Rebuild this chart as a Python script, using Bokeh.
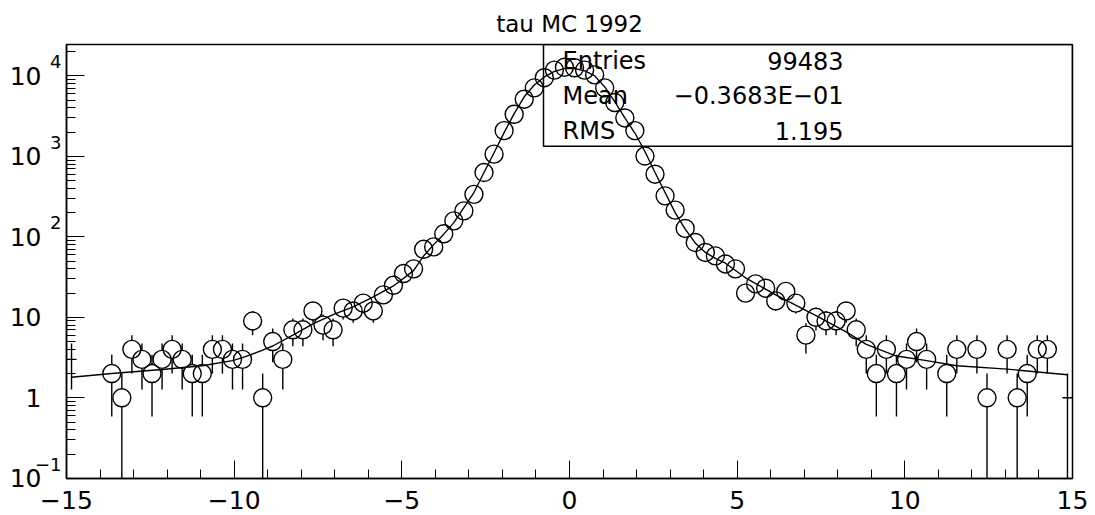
import math
from bokeh.plotting import figure
from bokeh.models import (BoxAnnotation, FixedTicker, CustomJSTickFormatter, Range1d,
                          LogAxis, LogScale, Label)
from bokeh.embed import file_html
from bokeh.resources import INLINE

# ---------------- data ----------------
title_text = "tau MC 1992"

bin_x = [-13.65, -13.35, -13.05, -12.75, -12.45, -12.15, -11.85, -11.55, -11.25, -10.95,
         -10.65, -10.35, -10.05, -9.75, -9.45, -9.15, -8.85, -8.55, -8.25, -7.95,
         -7.65, -7.35, -7.05, -6.75, -6.45, -6.15, -5.85, -5.55, -5.25, -4.95,
         -4.65, -4.35, -4.05, -3.75, -3.45, -3.15, -2.85, -2.55, -2.25, -1.95,
         -1.65, -1.35, -1.05, -0.75, -0.45, -0.15, 0.15, 0.45, 0.75, 1.05,
         1.35, 1.65, 1.95, 2.25, 2.55, 2.85, 3.15, 3.45, 3.75, 4.05,
         4.35, 4.65, 4.95, 5.25, 5.55, 5.85, 6.15, 6.45, 6.75, 7.05,
         7.35, 7.65, 7.95, 8.25, 8.55, 8.85, 9.15, 9.45, 9.75, 10.05,
         10.35, 10.65, 11.25, 11.55, 12.15, 12.45, 13.05, 13.35, 13.65, 13.95,
         14.25]
counts = [2, 1, 4, 3, 2, 3, 4, 3, 2, 2,
          4, 4, 3, 3, 9, 1, 5, 3, 7, 7,
          12, 8, 7, 13, 12, 15, 12, 19, 25, 35,
          40, 70, 75, 109, 158, 210, 337, 630, 1065, 2090,
          3330, 5130, 7100, 9500, 11800, 12800, 12600, 11800, 10300, 7100,
          4660, 3000, 2090, 1010, 600, 323, 215, 127, 85, 64,
          58, 46, 40, 20, 26, 23, 16, 21, 15, 6,
          10, 9, 9, 12, 7, 4, 2, 4, 2, 3,
          5, 3, 2, 4, 4, 1, 4, 1, 2, 4,
          4]

# edge bins: markers not drawn (they would cross the frame), only error bars
edge_x = [-14.85, 14.85]
edge_counts = [3, 1]

fit_x = [-14.85, -13.65, -12.15, -10.95, -10.05, -9.75, -9.15, -8.85, -8.25, -7.65,
         -7.05, -6.45, -5.85, -5.25, -4.65, -4.35, -4.05, -3.75, -3.45, -3.15,
         -2.85, -2.55, -2.25, -1.95, -1.65, -1.35, -1.05, -0.75, -0.45, -0.15,
         0.15, 0.45, 0.75, 1.05, 1.35, 1.65, 1.95, 2.25, 2.55, 2.85,
         3.15, 3.45, 3.75, 4.05, 4.35, 4.65, 5.25, 6.15, 7.35, 8.25,
         8.85, 9.75, 10.65, 11.55, 13.05, 14.85]
fit_y = [1.8, 2.0, 2.25, 2.5, 2.9, 3.15, 3.9, 4.4, 6.0, 8.3,
         10.8, 13.5, 18, 24.5, 38, 58, 80, 108, 150, 230,
         355, 630, 1110, 1970, 3400, 5500, 7700, 9700, 11400, 12300,
         12300, 11600, 10000, 7300, 4800, 3000, 1950, 1150, 630, 355,
         200, 125, 84, 64, 54, 47, 31, 19, 10.5, 6.6,
         4.6, 3.3, 2.9, 2.5, 2.27, 1.93]

stats_names = ["Entries", "Mean", "RMS"]
stats_values = ["99483", "\u22120.3683E\u221201", "1.195"]

x_ticks = [-15, -10, -5, 0, 5, 10, 15]
x_minor = list(range(-15, 16))
y_decades = [-1, 0, 1, 2, 3, 4]

# ---------------- layout ----------------
W, H = 1095, 515
FL, FR, FT, FB = 66, 1072, 43, 478
X0, X1 = -15.0, 15.0
LY0, LY1 = -1.003, 4.39
PPD = (FB - FT) / (LY1 - LY0)      # pixels per decade
FONT = "DejaVu Sans"
LIFT = 14                          # exponent raised by this many pixels


def px2x(px):
    return X0 + (px - FL) / (FR - FL) * (X1 - X0)


def py2y(py):
    return 10 ** (LY0 + (FB - py) / (FB - FT) * (LY1 - LY0))


p = figure(width=W, height=H, x_range=Range1d(X0, X1),
           y_range=Range1d(10 ** LY0, 10 ** LY1), y_axis_type="log",
           output_backend="svg", toolbar_location=None,
           min_border_left=FL, min_border_right=W - FR,
           min_border_top=FT, min_border_bottom=H - FB)
p.grid.visible = False
p.outline_line_color = "black"
p.outline_line_width = 1.5
p.background_fill_color = "white"
p.border_fill_color = "white"

# title
p.title.text = title_text
p.title.align = "center"
p.title.text_font = FONT
p.title.text_font_size = "23px"
p.title.text_font_style = "normal"
p.title.text_color = "black"
p.title.standoff = 16

# x axis
p.xaxis.ticker = FixedTicker(ticks=x_ticks, minor_ticks=x_minor)
p.xaxis.formatter = CustomJSTickFormatter(
    code="return tick < 0 ? '\\u2212' + Math.abs(tick) : String(tick);")
p.xaxis.major_tick_in = 18
p.xaxis.major_tick_out = 0
p.xaxis.minor_tick_in = 9
p.xaxis.minor_tick_out = 0
p.xaxis.axis_line_color = "black"
p.xaxis.axis_line_width = 1.5
p.xaxis.major_tick_line_color = "black"
p.xaxis.minor_tick_line_color = "black"
p.xaxis.major_label_text_font = FONT
p.xaxis.major_label_text_font_size = "25px"
p.xaxis.major_label_text_color = "black"
p.xaxis.major_label_standoff = 12

# y axis (log): ticks only on the main axis
decade_ticks = [10.0 ** d for d in y_decades]
y_minor = [m * 10 ** d for d in range(-1, 5) for m in range(2, 10) if m * 10 ** d < 10 ** LY1]
p.yaxis.ticker = FixedTicker(ticks=decade_ticks, minor_ticks=y_minor)
p.yaxis.formatter = CustomJSTickFormatter(code="return '';")
p.yaxis.major_tick_in = 18
p.yaxis.major_tick_out = 0
p.yaxis.minor_tick_in = 9
p.yaxis.minor_tick_out = 0
p.yaxis.axis_line_color = "black"
p.yaxis.axis_line_width = 1.5
p.yaxis.major_tick_line_color = "black"
p.yaxis.minor_tick_line_color = "black"
p.yaxis.major_label_standoff = 0

# exponent labels: a log axis whose range is shifted so the labels sit LIFT px higher
shift = LIFT / PPD
p.extra_y_ranges = {"exp": Range1d(10 ** (LY0 - shift), 10 ** (LY1 - shift))}
p.extra_y_scales = {"exp": LogScale()}
exp_axis = LogAxis(y_range_name="exp",
                   ticker=FixedTicker(ticks=decade_ticks, minor_ticks=[]),
                   formatter=CustomJSTickFormatter(code=(
                       "const d = Math.round(Math.log10(tick));"
                       "if (d == 0 || d == 1) return '';"
                       "return d < 0 ? '\\u2212' + (-d) : String(d);")))
exp_axis.axis_line_color = None
exp_axis.major_tick_line_color = None
exp_axis.minor_tick_line_color = None
exp_axis.major_tick_in = 0
exp_axis.major_tick_out = 0
exp_axis.major_label_standoff = 5
exp_axis.major_label_text_font = FONT
exp_axis.major_label_text_font_size = "18px"
exp_axis.major_label_text_color = "black"
p.add_layout(exp_axis, "left")

# mantissa labels "10" / "1"
man_axis = LogAxis(ticker=FixedTicker(ticks=decade_ticks, minor_ticks=[]),
                   formatter=CustomJSTickFormatter(code=(
                       "const d = Math.round(Math.log10(tick));"
                       "return d == 0 ? '1' : '10';")))
man_axis.axis_line_color = None
man_axis.major_tick_line_color = None
man_axis.minor_tick_line_color = None
man_axis.major_tick_in = 0
man_axis.major_tick_out = 0
man_axis.major_label_standoff = -10
man_axis.major_label_text_font = FONT
man_axis.major_label_text_font_size = "25px"
man_axis.major_label_text_color = "black"
p.add_layout(man_axis, "left")

# fit curve
p.line(fit_x, fit_y, line_color="black", line_width=1.4)

# error bars (stop at the circle edge)
R = 9.0
below = 10 ** (LY0 - 1)
x0s, y0s, x1s, y1s = [], [], [], []
for xv, c in zip(bin_x, counts):
    hi = c + math.sqrt(c)
    lo = c - math.sqrt(c)
    ctop = c * 10 ** (R / PPD)
    cbot = c / 10 ** (R / PPD)
    if hi > ctop:
        x0s.append(xv); y0s.append(ctop); x1s.append(xv); y1s.append(hi)
    lo_v = lo if lo > 0 else below
    if lo_v < cbot:
        x0s.append(xv); y0s.append(lo_v); x1s.append(xv); y1s.append(cbot)
half = 5 * (X1 - X0) / (FR - FL)
for xv, c in zip(edge_x, edge_counts):
    hi = c + math.sqrt(c)
    lo = c - math.sqrt(c)
    lo_v = lo if lo > 0 else below
    x0s.append(xv); y0s.append(lo_v); x1s.append(xv); y1s.append(hi)
    x0s.append(xv - half); y0s.append(c); x1s.append(xv + half); y1s.append(c)
p.segment(x0s, y0s, x1s, y1s, line_color="black", line_width=1.4)

# markers
p.scatter(bin_x, counts, marker="circle", size=2 * R, fill_color=None,
          line_color="black", line_width=1.4)

# stats box
p.add_layout(BoxAnnotation(left=px2x(543), right=X1, bottom=py2y(145), top=10 ** LY1,
                           fill_color=None, fill_alpha=0, line_color="black",
                           line_alpha=1.0, line_width=1.5))
row_py = [60, 95, 130]
for name, val, py in zip(stats_names, stats_values, row_py):
    p.add_layout(Label(x=px2x(562), y=py2y(py), text=name, text_align="left",
                       text_baseline="middle", text_font=FONT,
                       text_font_size="24px", text_color="black"))
    p.add_layout(Label(x=px2x(843), y=py2y(py), text=val, text_align="right",
                       text_baseline="middle", text_font=FONT,
                       text_font_size="24px", text_color="black"))

open("out.html", "w").write(file_html(p, INLINE))
